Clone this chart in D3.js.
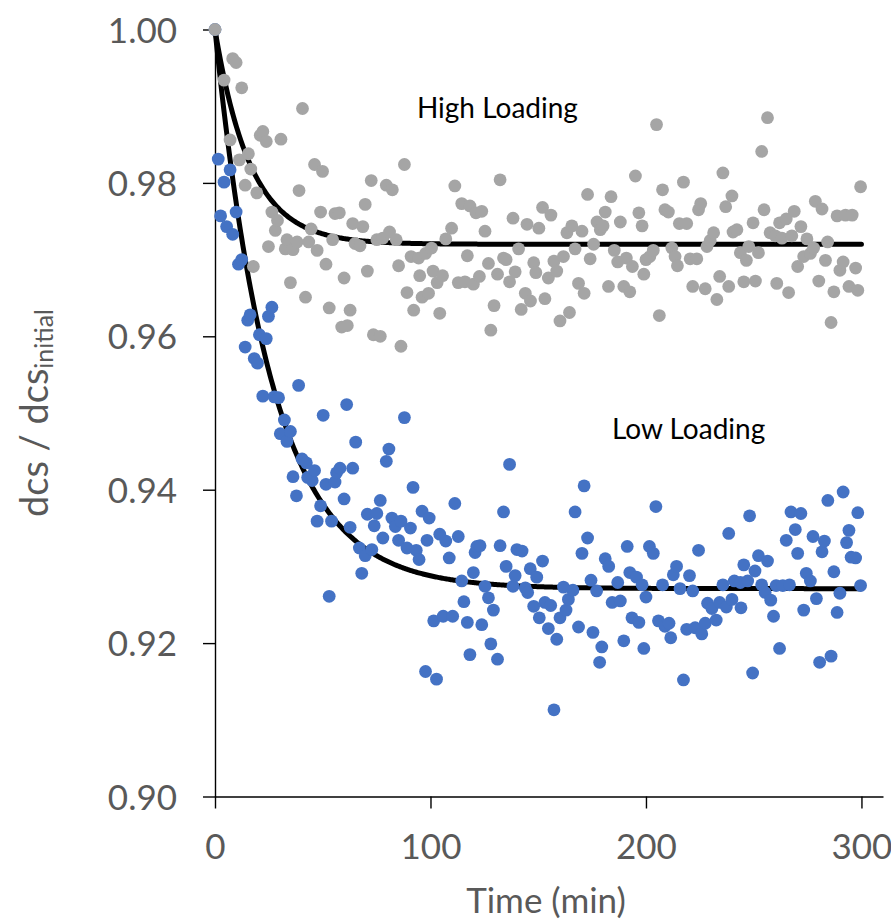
<!DOCTYPE html>
<html>
<head>
<meta charset="utf-8">
<script src="https://cdn.jsdelivr.net/npm/d3@7"></script>
<style>
  html, body { margin: 0; padding: 0; background: #fff; }
  svg { display: block; }
  text { font-family: Lato, "Open Sans", sans-serif; }
</style>
</head>
<body>
<svg id="chart" width="891" height="923"></svg>
<script>
// ---------------- DATA ----------------
const xTicks = [0, 100, 200, 300];
const yTicks = [0.90, 0.92, 0.94, 0.96, 0.98, 1.00];

// High Loading (grey) : time (min), dcs/dcs_initial
const highTime = [0,4.2,7.0,8.2,9.8,11.3,12.4,14.0,15.5,16.6,17.8,19.4,21.0,22.2,23.8,24.8,26.4,28.0,29.0,30.6,32.6,33.4,35.0,36.2,38.1,39.0,40.6,42.0,43.5,44.6,46.2,47.4,49.0,49.9,51.5,53.0,54.6,55.7,57.7,58.8,59.9,61.4,62.7,63.9,65.0,67.3,68.6,69.7,70.7,72.5,73.5,75.1,76.7,77.9,79.5,81.0,82.3,84.1,85.2,86.3,87.9,89.1,91.0,92.2,94.5,95.0,96.1,97.7,99.1,100.5,101.2,103.1,104.3,105.6,107.1,109.8,111.3,112.9,114.5,116.0,117.1,118.3,119.9,121.1,122.7,123.8,125.3,126.9,128.0,129.5,131.1,132.3,133.9,135.1,136.7,138.3,139.3,140.9,142.1,144.0,144.8,146.4,147.9,148.9,150.3,152.0,153.1,154.7,155.9,157.3,158.6,160.1,161.7,163.3,164.5,165.6,167.1,168.7,170.3,171.3,172.9,174.1,175.7,177.3,178.8,180.1,181.1,182.6,183.8,185.3,186.9,188.1,189.7,190.9,192.5,193.7,195.1,196.7,198.2,199.0,200.0,201.8,203.4,204.9,206.2,207.7,208.8,210.4,212.0,213.5,214.6,215.5,217.4,218.9,220.5,221.7,223.6,224.4,225.4,227.5,228.3,229.8,231.4,232.9,234.2,235.7,237.0,238.4,239.9,240.4,242.2,243.8,245.4,246.6,247.7,249.7,250.8,252.2,253.7,254.8,256.4,257.6,260.0,260.7,262.0,263.1,265.1,266.2,267.7,268.8,270.4,271.9,273.2,274.7,276.3,277.8,278.6,280.2,281.7,283.3,284.3,285.9,287.2,288.7,290.0,291.5,292.6,294.2,295.7,297.3,298.3,299.6];
const highValue = [1.0000,0.9934,0.9856,0.9962,0.9957,0.9830,0.9924,0.9797,0.9838,0.9818,0.9691,0.9787,0.9862,0.9867,0.9854,0.9717,0.9762,0.9738,0.9751,0.9857,0.9714,0.9726,0.9670,0.9713,0.9723,0.9790,0.9897,0.9651,0.9723,0.9740,0.9824,0.9712,0.9762,0.9815,0.9694,0.9637,0.9726,0.9760,0.9761,0.9612,0.9676,0.9614,0.9634,0.9747,0.9721,0.9718,0.9743,0.9772,0.9685,0.9803,0.9602,0.9726,0.9600,0.9728,0.9797,0.9736,0.9791,0.9726,0.9692,0.9587,0.9824,0.9657,0.9704,0.9634,0.9702,0.9679,0.9651,0.9708,0.9656,0.9715,0.9685,0.9670,0.9630,0.9679,0.9727,0.9741,0.9796,0.9670,0.9773,0.9671,0.9705,0.9770,0.9668,0.9761,0.9678,0.9763,0.9737,0.9695,0.9608,0.9640,0.9681,0.9804,0.9702,0.9700,0.9671,0.9754,0.9684,0.9714,0.9635,0.9656,0.9746,0.9646,0.9696,0.9683,0.9741,0.9768,0.9649,0.9676,0.9758,0.9698,0.9685,0.9620,0.9704,0.9735,0.9631,0.9744,0.9714,0.9669,0.9737,0.9656,0.9785,0.9701,0.9720,0.9749,0.9739,0.9744,0.9762,0.9665,0.9782,0.9712,0.9697,0.9749,0.9665,0.9702,0.9658,0.9691,0.9809,0.9761,0.9744,0.9681,0.9700,0.9704,0.9712,0.9876,0.9627,0.9791,0.9765,0.9762,0.9715,0.9704,0.9692,0.9747,0.9801,0.9747,0.9701,0.9665,0.9701,0.9765,0.9773,0.9662,0.9717,0.9725,0.9735,0.9648,0.9678,0.9813,0.9769,0.9665,0.9783,0.9736,0.9739,0.9709,0.9671,0.9699,0.9717,0.9748,0.9672,0.9709,0.9841,0.9765,0.9885,0.9735,0.9731,0.9669,0.9748,0.9728,0.9753,0.9657,0.9731,0.9763,0.9691,0.9743,0.9704,0.9727,0.9708,0.9715,0.9776,0.9672,0.9766,0.9699,0.9723,0.9618,0.9658,0.9757,0.9686,0.9697,0.9758,0.9665,0.9758,0.9689,0.9660,0.9795];

// Low Loading (blue)
const lowTime = [0,1.5,2.6,4.2,5.4,7.0,8.2,9.8,10.9,12.4,14.0,15.2,16.3,18.2,19.7,20.6,22.2,23.8,24.8,26.4,27.5,29.5,30.3,32.2,33.4,35.0,36.2,37.8,38.8,40.4,42.4,43.0,45.1,46.2,47.4,49.0,50.2,51.5,53.0,54.1,55.7,56.4,58.0,59.9,61.1,62.7,63.9,65.3,67.0,68.1,69.7,70.7,72.8,73.9,75.1,76.7,77.9,79.5,80.7,82.1,83.7,85.2,86.3,87.9,89.1,90.7,91.9,93.4,94.7,96.1,97.7,98.4,99.4,101.5,102.8,104.3,105.9,107.1,108.7,110.3,111.3,112.9,114.5,115.5,117.1,118.3,119.9,120.7,121.5,123.0,123.8,125.3,126.9,128.0,129.2,131.1,132.3,133.9,135.1,136.7,138.3,139.3,140.1,142.5,144.0,145.1,146.3,147.9,149.3,150.5,152.0,153.1,154.7,155.8,157.3,158.6,160.1,161.7,162.9,164.0,166.1,167.1,168.7,170.3,171.3,172.9,174.5,175.4,177.1,178.5,179.5,181.1,182.7,184.3,186.9,188.1,189.7,191.3,192.5,193.5,195.6,196.7,198.2,199.0,200.0,201.6,203.4,204.6,205.8,207.7,208.8,210.7,211.5,212.7,214.2,215.8,217.4,218.9,220.2,221.7,222.8,224.4,225.9,227.5,228.6,230.6,232.6,234.2,235.7,237.3,238.4,239.9,241.0,243.8,244.1,245.4,247.2,248.1,249.5,250.6,252.2,253.7,255.3,256.4,257.9,259.2,260.4,262.0,263.5,265.1,266.6,267.3,269.3,270.4,271.9,273.2,274.4,276.3,277.5,279.1,280.6,281.7,282.8,284.4,285.9,287.2,288.7,290.0,291.5,293.1,294.2,295.2,297.3,298.3,299.6];
const lowValue = [1.0000,0.9831,0.9757,0.9801,0.9743,0.9817,0.9733,0.9762,0.9694,0.9700,0.9586,0.9621,0.9628,0.9571,0.9565,0.9602,0.9522,0.9597,0.9626,0.9638,0.9521,0.9520,0.9473,0.9491,0.9463,0.9476,0.9417,0.9392,0.9536,0.9440,0.9435,0.9416,0.9412,0.9425,0.9359,0.9379,0.9497,0.9407,0.9261,0.9359,0.9410,0.9422,0.9428,0.9388,0.9511,0.9351,0.9428,0.9462,0.9324,0.9291,0.9314,0.9368,0.9322,0.9353,0.9369,0.9386,0.9337,0.9437,0.9453,0.9363,0.9352,0.9334,0.9359,0.9494,0.9324,0.9350,0.9403,0.9321,0.9309,0.9372,0.9163,0.9334,0.9363,0.9229,0.9153,0.9342,0.9235,0.9333,0.9311,0.9235,0.9382,0.9339,0.9281,0.9254,0.9227,0.9185,0.9292,0.9318,0.9326,0.9327,0.9224,0.9274,0.9259,0.9199,0.9243,0.9179,0.9327,0.9371,0.9300,0.9433,0.9274,0.9288,0.9322,0.9320,0.9272,0.9266,0.9297,0.9248,0.9286,0.9233,0.9307,0.9253,0.9219,0.9249,0.9113,0.9205,0.9233,0.9273,0.9243,0.9257,0.9269,0.9371,0.9221,0.9317,0.9405,0.9337,0.9282,0.9214,0.9268,0.9175,0.9195,0.9310,0.9300,0.9253,0.9279,0.9255,0.9203,0.9326,0.9292,0.9233,0.9286,0.9227,0.9276,0.9193,0.9260,0.9326,0.9317,0.9378,0.9229,0.9276,0.9222,0.9226,0.9207,0.9289,0.9300,0.9271,0.9152,0.9218,0.9288,0.9268,0.9220,0.9321,0.9212,0.9226,0.9252,0.9245,0.9230,0.9253,0.9276,0.9247,0.9343,0.9257,0.9281,0.9279,0.9246,0.9302,0.9281,0.9366,0.9161,0.9294,0.9314,0.9276,0.9266,0.9307,0.9256,0.9235,0.9275,0.9193,0.9275,0.9334,0.9276,0.9371,0.9348,0.9317,0.9369,0.9243,0.9291,0.9281,0.9339,0.9258,0.9175,0.9319,0.9333,0.9386,0.9183,0.9293,0.9240,0.9265,0.9397,0.9331,0.9347,0.9312,0.9311,0.9370,0.9275];

// exponential fit curves: plateau + (1 - plateau) * exp(-t / tau)
const highFit = { plateau: 0.9720, tau: 16.5 };
const lowFit  = { plateau: 0.9271, tau: 26.5 };
const fitRange = [0, 300];

const labels = [
  { text: "High Loading", t: 93.7, v: 0.98846 },
  { text: "Low Loading",  t: 184.2, v: 0.94661 }
];

// ---------------- DRAW ----------------
const svg = d3.select("#chart");
const x = d3.scaleLinear().domain([0, 310]).range([215, 883]);
const y = d3.scaleLinear().domain([0.90, 1.00]).range([796.5, 29.5]);

const tickColor = "#595959";

// axes
const yAxis = svg.append("g").attr("transform", `translate(${x(0)},0)`)
  .call(d3.axisLeft(y).tickValues(yTicks).tickSize(12).tickSizeOuter(0).tickPadding(26)
        .tickFormat(d3.format(".2f")));
const xAxis = svg.append("g").attr("transform", `translate(0,${y(0.90)})`)
  .call(d3.axisBottom(x).tickValues(xTicks).tickSize(12).tickSizeOuter(0)
        .tickFormat(d3.format("d")));

[xAxis, yAxis].forEach(g => {
  g.select(".domain").attr("stroke", "#000").attr("stroke-width", 1.4);
  g.selectAll(".tick line").attr("stroke", "#000").attr("stroke-width", 1.4);
  g.selectAll(".tick text").attr("fill", tickColor).style("font-size", "35px")
    .style("font-family", "Lato, 'Open Sans', sans-serif");
});
yAxis.selectAll(".tick text").attr("dy", "0.36em");
xAxis.selectAll(".tick text").attr("y", 62).attr("dy", 0);

// axis titles
svg.append("text")
  .attr("x", (x(0) + x(310)) / 2 - 3).attr("y", 913)
  .attr("text-anchor", "middle").attr("fill", tickColor)
  .style("font-size", "35px").text("Time (min)");

const yt = svg.append("text")
  .attr("transform", `translate(48,${(y(0.90) + y(1.00)) / 2}) rotate(-90)`)
  .attr("text-anchor", "middle").attr("fill", tickColor)
  .style("font-size", "38px");
yt.append("tspan").text("dcs / dcs");
yt.append("tspan").attr("dy", 5).style("font-size", "25px").text("initial");

// fit curves
function fitPoints(f) {
  const pts = [];
  for (let t = fitRange[0]; t <= fitRange[1]; t += 0.5) {
    pts.push([t, f.plateau + (1 - f.plateau) * Math.exp(-t / f.tau)]);
  }
  return pts;
}
const line = d3.line().x(d => x(d[0])).y(d => y(d[1])).curve(d3.curveLinear);
[highFit, lowFit].forEach(f => {
  svg.append("path").datum(fitPoints(f))
    .attr("d", line).attr("fill", "none")
    .attr("stroke", "#000").attr("stroke-width", 5)
    .attr("stroke-linejoin", "round").attr("stroke-linecap", "round");
});

// scatter points
const lowData = lowTime.map((t, i) => [t, lowValue[i]]);
const highData = highTime.map((t, i) => [t, highValue[i]]);

svg.append("g").selectAll("circle").data(lowData).join("circle")
  .attr("cx", d => x(d[0])).attr("cy", d => y(d[1])).attr("r", 6.4)
  .attr("fill", "#4472c4");
svg.append("g").selectAll("circle").data(highData).join("circle")
  .attr("cx", d => x(d[0])).attr("cy", d => y(d[1])).attr("r", 6.4)
  .attr("fill", "#a5a5a5");

// annotations
svg.append("g").selectAll("text").data(labels).join("text")
  .attr("x", d => x(d.t)).attr("y", d => y(d.v))
  .attr("fill", "#000").style("font-size", "28px")
  .text(d => d.text);
</script>
</body>
</html>
